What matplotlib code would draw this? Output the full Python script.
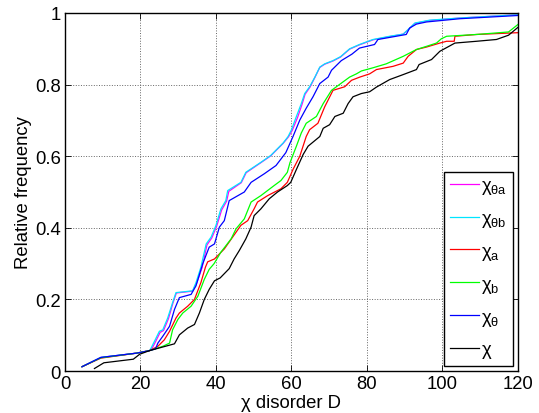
import matplotlib
matplotlib.use('Agg')
import matplotlib.pyplot as plt

plt.rcParams['font.family'] = ['Liberation Sans', 'DejaVu Sans']
plt.rcParams['mathtext.fontset'] = 'custom'
plt.rcParams['mathtext.rm'] = 'Liberation Sans'
plt.rcParams['mathtext.it'] = 'Liberation Sans'
plt.rcParams['mathtext.bf'] = 'Liberation Sans:bold'

# chi_theta_a (magenta)
x_ta = [4.5, 9.5, 19, 22.4, 23.0, 23.9, 25.2, 26.1, 27.4, 28.6, 29.5, 33.8, 34.9, 36.3, 37.6, 38.9,
        40.2, 41.5, 42.8, 43.4, 46.7, 48.0, 51.9, 54.5, 56.0, 57.8, 59.2, 60.2, 61.6, 62.8, 63.6,
        64.9, 66.2, 67.5, 68.8, 71.0, 73.0, 75.4, 78.0, 81.6, 86.0, 89.6, 91.3, 92.7, 96.6, 104.6, 120]
y_ta = [0.012, 0.038, 0.05, 0.057, 0.062, 0.08, 0.108, 0.113, 0.146, 0.19, 0.218, 0.223, 0.246, 0.288,
        0.352, 0.372, 0.405, 0.45, 0.474, 0.502, 0.526, 0.554, 0.582, 0.601, 0.617, 0.636, 0.654,
        0.672, 0.708, 0.745, 0.773, 0.793, 0.82, 0.848, 0.857, 0.866, 0.877, 0.899, 0.911, 0.925,
        0.934, 0.941, 0.957, 0.971, 0.979, 0.986, 0.995]

# chi_theta_b (cyan)
x_tb = [4.5, 9.5, 19, 22.4, 22.8, 23.7, 25.0, 25.9, 27.2, 28.5, 29.4, 33.8, 34.7, 36.0, 37.4, 38.7,
        40.0, 41.3, 42.6, 43.1, 46.6, 47.9, 51.9, 54.5, 56.0, 57.8, 59.1, 60.0, 61.3, 62.6, 63.5,
        64.8, 66.2, 67.5, 68.8, 71.0, 73.0, 75.4, 78.0, 81.6, 86.0, 89.6, 91.3, 92.7, 96.6, 104.6, 120]
y_tb = [0.012, 0.038, 0.05, 0.057, 0.064, 0.083, 0.111, 0.115, 0.148, 0.191, 0.219, 0.224, 0.247, 0.29,
        0.355, 0.374, 0.407, 0.453, 0.476, 0.504, 0.527, 0.555, 0.583, 0.602, 0.618, 0.637, 0.655,
        0.674, 0.711, 0.747, 0.775, 0.794, 0.821, 0.849, 0.858, 0.867, 0.878, 0.9, 0.912, 0.926,
        0.935, 0.941, 0.958, 0.972, 0.98, 0.986, 0.995]

# chi_a (red)
x_a = [4.5, 9.5, 19, 22.4, 24.6, 26.3, 27.7, 29.4, 30.3, 32.5, 34.3, 36.0, 37.2, 37.8, 39.6, 42.2,
       44.4, 46.6, 48.4, 50.1, 51.0, 53.7, 57.2, 58.9, 60.4, 62.2, 63.9, 64.8, 67.0, 68.8, 71.0,
       74.1, 75.9, 78.1, 80.7, 82.5, 86.9, 89.6, 90.9, 93.1, 95.8, 99.3, 101.1, 103.1, 103.3, 109, 120]
y_a = [0.012, 0.036, 0.05, 0.057, 0.069, 0.087, 0.111, 0.148, 0.162, 0.181, 0.2, 0.247, 0.29, 0.305,
       0.313, 0.341, 0.374, 0.407, 0.42, 0.453, 0.472, 0.49, 0.509, 0.527, 0.563, 0.6, 0.655, 0.674,
       0.692, 0.738, 0.784, 0.794, 0.812, 0.821, 0.83, 0.842, 0.851, 0.86, 0.879, 0.898, 0.905,
       0.916, 0.921, 0.921, 0.935, 0.94, 0.945]

# chi_b (green)
x_b = [4.5, 9.5, 19, 22.4, 25.9, 27.7, 28.5, 29.9, 31.2, 33.4, 35.2, 36.9, 38.2, 39.5, 41.3, 44.0,
       45.3, 47.5, 49.3, 51.9, 55.4, 57.2, 58.9, 59.6, 61.3, 62.6, 63.9, 66.6, 68.4, 70.6, 71.9,
       75.4, 77.2, 78.5, 81.6, 85.1, 89.6, 93.1, 95.8, 98.4, 99.7, 101.1, 109, 117.5, 120]
y_b = [0.012, 0.037, 0.05, 0.057, 0.069, 0.078, 0.115, 0.144, 0.162, 0.181, 0.209, 0.256, 0.284, 0.3,
       0.332, 0.369, 0.397, 0.425, 0.472, 0.49, 0.518, 0.532, 0.555, 0.582, 0.628, 0.665, 0.692,
       0.711, 0.747, 0.784, 0.794, 0.821, 0.83, 0.838, 0.847, 0.858, 0.879, 0.898, 0.907, 0.916,
       0.928, 0.935, 0.94, 0.947, 0.968]

# chi_theta (blue)
x_t = [4.5, 9.5, 19, 22.4, 24.0, 24.6, 25.9, 27.7, 29.0, 30.3, 33.4, 34.7, 36.5, 38.2, 39.6, 40.9,
       42.2, 43.5, 47.5, 49.3, 52.8, 55.9, 58.5, 60.4, 62.2, 63.9, 65.7, 67.5, 69.7, 70.6, 73.2,
       76.0, 78.0, 82.0, 82.9, 90.4, 91.3, 93.1, 95.8, 104.6, 120]
y_t = [0.012, 0.038, 0.05, 0.057, 0.062, 0.078, 0.097, 0.125, 0.172, 0.205, 0.214, 0.238, 0.3, 0.346,
       0.355, 0.402, 0.42, 0.476, 0.5, 0.527, 0.551, 0.574, 0.61, 0.655, 0.701, 0.734, 0.766, 0.803,
       0.821, 0.84, 0.867, 0.885, 0.902, 0.912, 0.926, 0.94, 0.958, 0.969, 0.975, 0.984, 0.993]

# chi (black)
x_k = [7.8, 10.3, 18.1, 19.8, 22.4, 29.0, 30.3, 32.5, 34.3, 35.6, 36.9, 38.2, 39.6, 41.1, 43.5, 44.8,
       46.2, 47.9, 49.3, 50.1, 51.9, 54.1, 56.3, 58.9, 59.8, 61.3, 63.1, 64.4, 67.5, 68.4, 70.1,
       71.5, 73.7, 75.0, 76.3, 78.5, 80.7, 82.5, 86.0, 89.6, 93.1, 93.8, 97.1, 99.3, 103.3, 109,
       114.3, 117.5, 120]
y_k = [0.007, 0.023, 0.033, 0.047, 0.057, 0.076, 0.101, 0.12, 0.13, 0.162, 0.2, 0.228, 0.252, 0.26,
       0.286, 0.313, 0.337, 0.369, 0.402, 0.434, 0.453, 0.481, 0.5, 0.518, 0.527, 0.563, 0.605,
       0.628, 0.655, 0.678, 0.688, 0.711, 0.72, 0.747, 0.766, 0.775, 0.78, 0.793, 0.814, 0.828,
       0.842, 0.856, 0.87, 0.893, 0.916, 0.921, 0.926, 0.938, 0.96]

labels = [r'$\chi_{\theta a}$', r'$\chi_{\theta b}$', r'$\chi_{a}$', r'$\chi_{b}$', r'$\chi_{\theta}$', r'$\chi$']
colors = ['#ff00ff', '#00e5ff', '#ff0000', '#00ff00', '#0000ff', '#000000']
xticks = [0, 20, 40, 60, 80, 100, 120]
yticks = [0, 0.2, 0.4, 0.6, 0.8, 1]
ytick_labels = ['0', '0.2', '0.4', '0.6', '0.8', '1']

fig = plt.figure(figsize=(5.39, 4.14), dpi=100)
ax = fig.add_axes([0.1206, 0.1014, 0.8404, 0.8648])

series = [(x_ta, y_ta), (x_tb, y_tb), (x_a, y_a), (x_b, y_b), (x_t, y_t), (x_k, y_k)]
for (xs, ys), lab, col in zip(series, labels, colors):
    ax.plot(xs, ys, color=col, lw=0.9, label=lab)

ax.set_xlim(0, 120)
ax.set_ylim(0, 1)
ax.set_xticks(xticks)
ax.set_yticks(yticks)
ax.set_yticklabels(ytick_labels)
ax.tick_params(direction='in', length=4, width=0.6, top=True, right=True, labelsize=13.3, pad=3)
ax.grid(True, linestyle=':', color='0.4', lw=0.7)
for s in ax.spines.values():
    s.set_linewidth(1.0)

ax.set_xlabel('χ disorder D', fontsize=13.3, labelpad=1)
ax.set_ylabel('Relative frequency', fontsize=13.3, labelpad=2)

leg = ax.legend(loc='lower right', bbox_to_anchor=(0.989, 0.014), borderaxespad=0,
                fontsize=13.3, fancybox=False, edgecolor='black', framealpha=1,
                handlelength=1.55, handletextpad=0.15, labelspacing=0.75, borderpad=0.3)
leg.get_frame().set_linewidth(1.0)

fig.savefig('out.png', dpi=100)
